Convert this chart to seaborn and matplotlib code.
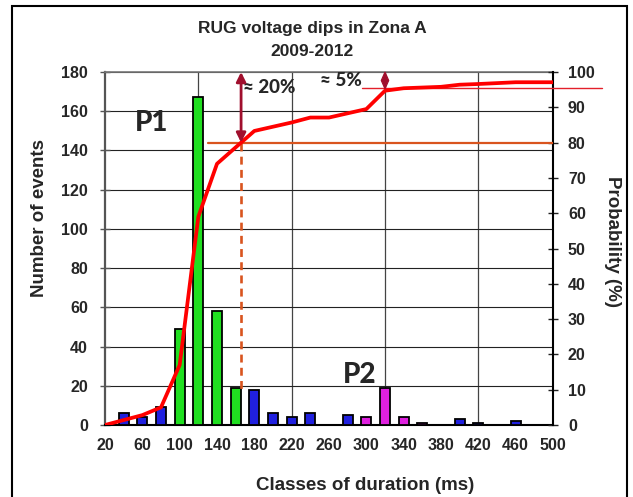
import matplotlib
matplotlib.use("Agg")
import matplotlib.pyplot as plt
import seaborn as sns
import pandas as pd
from matplotlib.font_manager import FontProperties
from matplotlib.patches import Rectangle, Polygon

# ---------------- data ----------------
durations = [40, 60, 80, 100, 120, 140, 160, 180, 200, 220, 240, 280, 300, 320, 340, 360, 400, 420, 460]
events = [6, 4, 9, 49, 167, 58, 19, 18, 6, 4, 6, 5, 4, 19, 4, 1, 3, 1, 2]
groups = ["blue", "blue", "blue", "green", "green", "green", "green",
          "blue", "blue", "blue", "blue", "blue",
          "pink", "pink", "pink", "pink", "blue", "blue", "blue"]

cum_x = [20, 60, 80, 100, 120, 140, 180, 220, 240, 260, 300, 320, 340, 380, 400, 420, 460, 500]
cum_y = [0, 2.8, 5.0, 17, 59, 74, 83.3, 85.7, 87.1, 87.1, 89.5, 94.7, 95.4, 95.8, 96.4, 96.6, 97.1, 97.1]

xtick_labels = list(range(20, 501, 40))
left_ticks = list(range(0, 181, 20))
right_ticks = list(range(0, 101, 10))

palette = {"blue": "#0000FF", "green": "#00FF00", "pink": "#FF00FF"}

# ---------------- style ----------------
sns.set_theme(style="white")
plt.rcParams["font.family"] = ["Liberation Sans", "DejaVu Sans"]


def fp(family, size, weight="bold"):
    return FontProperties(family=family, weight=weight, size=size)


arial = ["Liberation Sans", "DejaVu Sans"]
calib = ["Lato", "DejaVu Sans"]

fig = plt.figure(figsize=(6.33, 4.97), dpi=100)
ax = fig.add_axes([105 / 633, 72 / 497, 448 / 633, 353 / 497])

df = pd.DataFrame({"duration": durations, "events": events, "group": groups})
sns.barplot(data=df, x="duration", y="events", hue="group", palette=palette,
            native_scale=True, dodge=False, width=0.55, errorbar=None,
            edgecolor="black", linewidth=1.3, legend=False, ax=ax, zorder=3)

ax.set_xlim(20, 500)
ax.set_ylim(0, 180)
ax.set_yticks(left_ticks)
ax.set_xticks(xtick_labels)
ax.set_xticks(list(range(20, 500, 50)), minor=True)
ax.set_xlabel("")
ax.set_ylabel("")
for lab in ax.get_xticklabels() + ax.get_yticklabels():
    lab.set_fontproperties(fp(arial, 11.5))
ax.tick_params(axis="x", which="major", length=0, pad=9)
ax.tick_params(axis="x", which="minor", length=8, direction="inout", width=1, color="#333333")
ax.tick_params(axis="y", length=7.2, direction="inout", width=1, color="#555555", pad=8.6, left=True)

ax.yaxis.grid(True, color="#222222", lw=0.8)
ax.xaxis.grid(False)
ax.set_axisbelow(True)
for v in [120, 220, 320, 420]:
    ax.axvline(v, color="#444444", lw=0.9, zorder=0.5)

ax.spines["left"].set_color("#555555")
ax.spines["left"].set_linewidth(1.6)
ax.spines["bottom"].set_color("black")
ax.spines["bottom"].set_linewidth(1.5)
ax.spines["top"].set_color("#777777")
ax.spines["top"].set_linewidth(1.2)
ax.spines["right"].set_visible(False)

# ---------------- right axis ----------------
ax2 = ax.twinx()
ax2.set_ylim(0, 100)
ax2.set_yticks(right_ticks)
for lab in ax2.get_yticklabels():
    lab.set_fontproperties(fp(arial, 11.5))
ax2.tick_params(axis="y", length=7.2, direction="inout", width=1, color="#222222", pad=7.2)
for s in ["left", "top", "bottom"]:
    ax2.spines[s].set_visible(False)
ax2.spines["right"].set_color("black")
ax2.spines["right"].set_linewidth(1.5)
ax2.grid(False)

# annotations
orange = "#D9541E"
darkred = "#A00F2D"
ax2.plot([130.4, 500], [80, 80], color=orange, lw=1.6, zorder=3)
ax2.plot([295, 552.5], [95.4, 95.4], color="#E3202A", lw=1.0, clip_on=False, zorder=3)
ax2.plot([165.8, 165.8], [80, 9.4], color=orange, lw=1.9, ls=(0, (3, 2)), zorder=3)

sns.lineplot(x=cum_x, y=cum_y, ax=ax2, color="#FF0000", lw=2.7, zorder=5)
ax2.set_ylabel("")

ax2.annotate("", xy=(165.8, 100), xytext=(165.8, 80),
             arrowprops=dict(arrowstyle="<|-|>", color=darkred, lw=2,
                             mutation_scale=14, shrinkA=0, shrinkB=0), zorder=6)
ax2.add_patch(Polygon([(320, 100), (324, 97.6), (320, 95.2), (316, 97.6)], closed=True,
                      facecolor=darkred, edgecolor=darkred, lw=0.8, zorder=6, clip_on=False))

ax.text(168, 172.3, "≈ 20%", ha="left", va="center", fontproperties=fp(calib, 13.5, "black"), zorder=7)
ax.text(250.4, 175.9, "≈ 5%", ha="left", va="center", fontproperties=fp(calib, 13.5, "black"), zorder=7)
ax.text(70, 154.2, "P1", ha="center", va="center", fontproperties=fp(calib, 20, "black"), zorder=7)
ax.text(293, 25.3, "P2", ha="center", va="center", fontproperties=fp(calib, 20, "black"), zorder=7)

# ---------------- titles / labels ----------------
fig.text(312 / 633, 1 - 29 / 497, "RUG voltage dips in Zona A", ha="center", va="center",
         fontproperties=fp(arial, 12.5))
fig.text(312 / 633, 1 - 51 / 497, "2009-2012", ha="center", va="center",
         fontproperties=fp(arial, 12.5))
fig.text(40 / 633, 1 - 218 / 497, "Number of events", rotation=90, ha="center", va="center",
         fontproperties=fp(arial, 13.5))
fig.text(612 / 633, 1 - 241 / 497, "Probability (%)", rotation=270, ha="center", va="center",
         fontproperties=fp(arial, 13.5))
fig.text(365 / 633, 1 - 486 / 497, "Classes of duration (ms)", ha="center", va="center",
         fontproperties=fp(arial, 13.5))

fig.add_artist(Rectangle((12 / 633, -0.05), (627 - 12) / 633, 1.05 - 6 / 497,
                         transform=fig.transFigure, fill=False, lw=1.5, ec="black"))

fig.savefig("out.png", dpi=100)
